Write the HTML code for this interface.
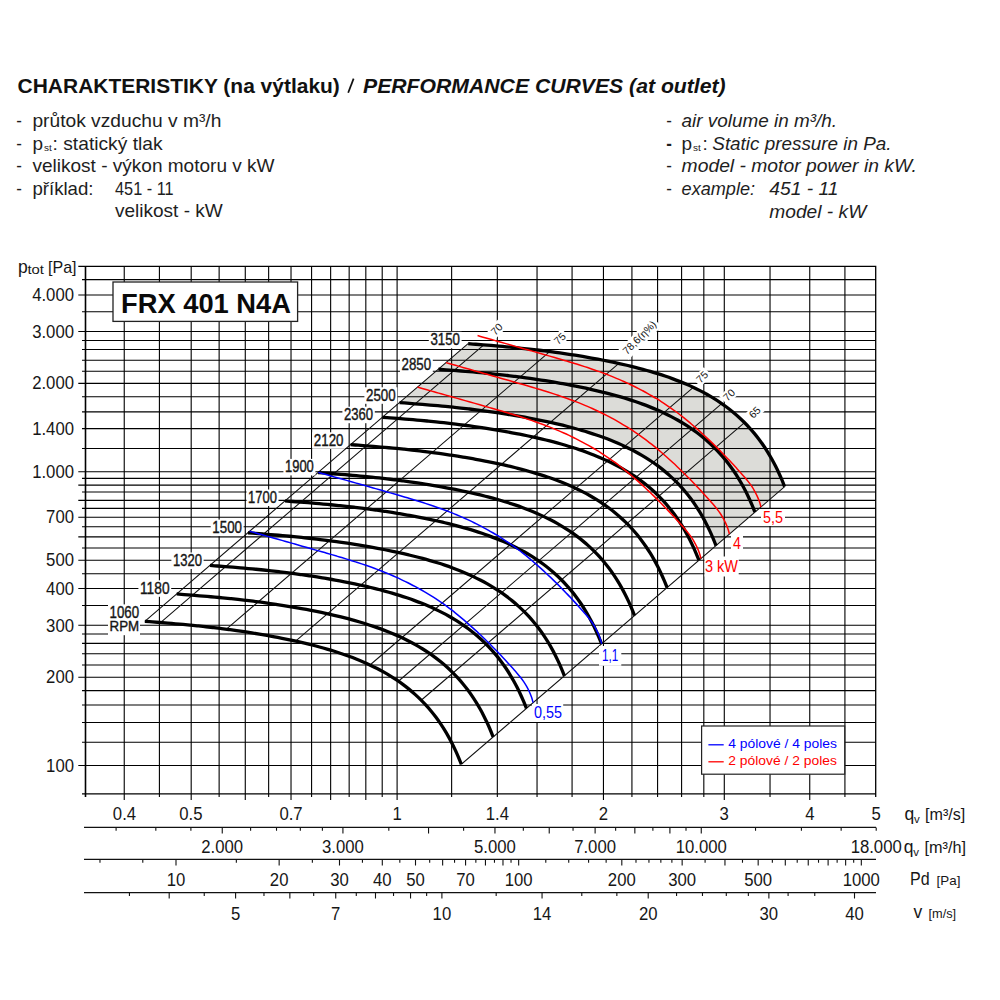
<!DOCTYPE html>
<html><head><meta charset="utf-8"><style>
html,body{margin:0;padding:0;background:#fff;width:1000px;height:1000px;overflow:hidden;}
svg text{font-family:"Liberation Sans",sans-serif;}
</style></head><body style="position:relative">
<svg width="1000" height="1000" viewBox="0 0 1000 1000" style="position:absolute;left:0;top:0">
<rect width="1000" height="1000" fill="#fff"/>
<path d="M468.14,343.66 C469.41,343.76 473.19,344.06 475.72,344.26 C478.26,344.46 480.80,344.66 483.35,344.86 C485.90,345.06 488.46,345.27 491.02,345.48 C493.58,345.68 496.14,345.90 498.71,346.12 C501.27,346.34 503.84,346.56 506.40,346.79 C508.97,347.03 511.53,347.27 514.09,347.51 C516.66,347.76 519.22,348.02 521.77,348.28 C524.33,348.55 526.89,348.82 529.44,349.10 C532.00,349.39 534.55,349.68 537.10,349.98 C539.64,350.28 542.19,350.59 544.73,350.91 C547.27,351.23 549.81,351.56 552.35,351.90 C554.89,352.24 557.42,352.59 559.96,352.95 C562.49,353.31 565.02,353.68 567.55,354.06 C570.08,354.44 572.60,354.83 575.13,355.23 C577.65,355.63 580.17,356.04 582.69,356.47 C585.21,356.89 587.73,357.32 590.25,357.77 C592.77,358.22 595.29,358.68 597.80,359.15 C600.32,359.62 602.83,360.11 605.34,360.61 C607.86,361.11 610.37,361.62 612.88,362.15 C615.38,362.68 617.89,363.22 620.40,363.78 C622.90,364.34 625.40,364.91 627.90,365.51 C630.40,366.11 632.90,366.72 635.39,367.35 C637.88,367.99 640.37,368.64 642.85,369.31 C645.33,369.99 647.80,370.68 650.27,371.41 C652.74,372.13 655.21,372.87 657.66,373.64 C660.11,374.42 662.56,375.21 664.99,376.04 C667.43,376.87 669.86,377.72 672.27,378.61 C674.68,379.50 677.08,380.41 679.46,381.36 C681.85,382.32 684.22,383.30 686.57,384.32 C688.92,385.34 691.26,386.39 693.58,387.49 C695.89,388.58 698.19,389.71 700.46,390.89 C702.74,392.06 704.99,393.27 707.21,394.53 C709.44,395.78 711.64,397.08 713.81,398.42 C715.98,399.76 718.13,401.15 720.24,402.58 C722.35,404.01 724.43,405.49 726.48,407.01 C728.53,408.54 730.54,410.11 732.52,411.72 C734.49,413.34 736.44,415.00 738.33,416.72 C740.23,418.43 742.10,420.19 743.91,421.99 C745.73,423.80 747.51,425.65 749.24,427.54 C750.98,429.44 752.67,431.38 754.31,433.37 C755.95,435.35 757.55,437.38 759.10,439.44 C760.65,441.51 762.15,443.62 763.61,445.76 C765.06,447.90 766.46,450.08 767.82,452.28 C769.18,454.49 770.49,456.73 771.75,458.98 C773.01,461.24 774.22,463.53 775.38,465.82 C776.54,468.12 777.66,470.43 778.73,472.75 C779.80,475.06 780.82,477.39 781.81,479.70 C782.79,482.01 784.15,485.46 784.62,486.61 L716.02,545.53 L716.02,545.53 C715.55,544.37 714.18,540.93 713.20,538.62 C712.22,536.31 711.20,533.98 710.13,531.66 C709.06,529.35 707.94,527.03 706.78,524.74 C705.61,522.45 704.40,520.16 703.14,517.90 C701.88,515.64 700.58,513.40 699.22,511.20 C697.86,509.00 696.46,506.82 695.00,504.68 C693.55,502.54 692.04,500.43 690.50,498.36 C688.95,496.30 687.35,494.27 685.71,492.28 C684.06,490.30 682.37,488.36 680.64,486.46 C678.91,484.57 677.13,482.71 675.31,480.91 C673.49,479.10 671.63,477.34 669.73,475.63 C667.83,473.92 665.89,472.26 663.91,470.64 C661.94,469.02 659.92,467.45 657.88,465.93 C655.83,464.41 653.75,462.93 651.64,461.50 C649.53,460.07 647.38,458.68 645.21,457.34 C643.04,456.00 640.84,454.70 638.61,453.45 C636.39,452.19 634.13,450.98 631.86,449.80 C629.59,448.63 627.29,447.50 624.97,446.41 C622.66,445.31 620.32,444.26 617.97,443.24 C615.62,442.22 613.25,441.23 610.86,440.28 C608.48,439.33 606.08,438.41 603.66,437.53 C601.25,436.64 598.83,435.79 596.39,434.96 C593.96,434.13 591.51,433.33 589.06,432.56 C586.60,431.79 584.14,431.05 581.67,430.32 C579.20,429.60 576.72,428.91 574.24,428.23 C571.76,427.55 569.27,426.90 566.78,426.27 C564.29,425.64 561.80,425.02 559.30,424.43 C556.80,423.83 554.30,423.26 551.79,422.70 C549.29,422.14 546.78,421.59 544.27,421.06 C541.76,420.54 539.25,420.02 536.74,419.52 C534.23,419.02 531.71,418.54 529.20,418.07 C526.68,417.60 524.17,417.14 521.65,416.69 C519.13,416.24 516.61,415.81 514.09,415.38 C511.57,414.96 509.05,414.55 506.52,414.15 C504.00,413.74 501.47,413.35 498.94,412.97 C496.42,412.59 493.89,412.22 491.35,411.86 C488.82,411.51 486.29,411.16 483.75,410.82 C481.21,410.48 478.67,410.15 476.13,409.83 C473.59,409.51 471.04,409.20 468.49,408.90 C465.94,408.59 463.39,408.30 460.84,408.02 C458.29,407.74 455.73,407.46 453.17,407.20 C450.61,406.94 448.05,406.68 445.49,406.43 C442.93,406.18 440.36,405.94 437.80,405.71 C435.23,405.48 432.67,405.25 430.10,405.03 C427.54,404.81 424.98,404.60 422.42,404.39 C419.86,404.18 417.30,403.98 414.75,403.78 C412.20,403.58 409.65,403.38 407.12,403.18 C404.58,402.98 400.80,402.68 399.54,402.58 Z" fill="#dcdcd8" stroke="none"/>
<path d="M78.3,765.47H875.7M82.0,742.29H875.7M82.0,722.46H875.7M82.0,704.99H875.7M82.0,690.58H875.7M78.3,677.21H875.7M82.0,664.93H875.7M82.0,653.78H875.7M82.0,643.37H875.7M82.0,634.05H875.7M78.3,625.20H875.7M82.0,605.57H875.7M78.3,588.50H875.7M82.0,573.69H875.7M78.3,560.22H875.7M82.0,547.99H875.7M78.3,536.84H875.7M82.0,526.78H875.7M78.3,517.20H875.7M82.0,508.35H875.7M78.3,500.34H875.7M82.0,492.07H875.7M78.3,485.08H875.7M82.0,478.38H875.7M78.3,471.75H875.7M82.0,448.48H875.7M82.0,428.64H875.7M82.0,411.88H875.7M82.0,396.76H875.7M78.3,383.39H875.7M82.0,371.32H875.7M82.0,360.22H875.7M82.0,349.56H875.7M82.0,340.48H875.7M78.3,331.43H875.7M82.0,311.75H875.7M78.3,295.03H875.7M82.0,279.67H875.7M124.24,266.4V800.0M159.41,266.4V797.0M191.19,266.4V800.0M219.13,266.4V797.0M245.28,266.4V800.0M268.64,266.4V797.0M291.02,266.4V800.0M311.58,266.4V797.0M330.64,266.4V800.0M349.16,266.4V797.0M365.82,266.4V800.0M382.21,266.4V797.0M397.10,266.4V800.0M451.63,266.4V797.0M497.32,266.4V797.0M537.04,266.4V797.0M572.07,266.4V797.0M603.45,266.4V800.0M631.93,266.4V797.0M657.58,266.4V797.0M681.59,266.4V797.0M703.82,266.4V797.0M724.29,266.4V800.0M770.03,266.4V797.0M809.75,266.4V800.0M844.92,266.4V797.0" stroke="#000" stroke-width="1.1" fill="none"/>
<path d="M78.3,266.40H875.70V797.00" stroke="#000" stroke-width="1.3" fill="none"/>
<path d="M82,793.91H875.70" stroke="#000" stroke-width="1.2" fill="none"/>
<path d="M85.50,266.40V797" stroke="#000" stroke-width="1.6" fill="none"/>
<path d="M144.80,621.31L468.10,343.66M160.50,622.55L483.80,344.90M226.40,629.21L549.70,351.55M295.60,641.11L618.90,363.45M370.00,665.02L693.30,387.36M398.40,681.27L721.70,403.62M421.20,700.25L744.50,422.60M461.40,764.26L784.70,486.61" stroke="#111" stroke-width="1.05" fill="none"/>
<path d="M144.85,621.31 C146.11,621.41 149.89,621.71 152.42,621.91 C154.96,622.11 157.50,622.31 160.05,622.51 C162.60,622.72 165.16,622.92 167.72,623.13 C170.28,623.34 172.85,623.55 175.41,623.77 C177.97,623.99 180.54,624.21 183.10,624.45 C185.67,624.68 188.23,624.92 190.79,625.17 C193.36,625.42 195.92,625.67 198.48,625.94 C201.03,626.20 203.59,626.47 206.14,626.76 C208.70,627.04 211.25,627.33 213.80,627.63 C216.35,627.93 218.89,628.24 221.43,628.56 C223.98,628.88 226.52,629.21 229.05,629.55 C231.59,629.89 234.13,630.24 236.66,630.60 C239.19,630.96 241.72,631.33 244.25,631.71 C246.78,632.09 249.30,632.48 251.83,632.88 C254.35,633.28 256.87,633.70 259.39,634.12 C261.92,634.54 264.44,634.98 266.95,635.43 C269.47,635.87 271.99,636.33 274.50,636.80 C277.02,637.28 279.53,637.76 282.05,638.26 C284.56,638.76 287.07,639.27 289.58,639.80 C292.09,640.33 294.59,640.87 297.10,641.43 C299.60,641.99 302.10,642.57 304.60,643.16 C307.10,643.76 309.60,644.37 312.09,645.01 C314.58,645.64 317.07,646.29 319.55,646.97 C322.03,647.64 324.51,648.34 326.97,649.06 C329.44,649.78 331.91,650.53 334.36,651.30 C336.81,652.07 339.26,652.87 341.70,653.69 C344.13,654.52 346.56,655.38 348.97,656.26 C351.38,657.15 353.78,658.07 356.17,659.02 C358.55,659.97 360.92,660.95 363.27,661.97 C365.63,662.99 367.96,664.05 370.28,665.14 C372.59,666.24 374.89,667.37 377.16,668.54 C379.44,669.71 381.69,670.93 383.92,672.18 C386.14,673.44 388.34,674.73 390.51,676.08 C392.68,677.42 394.83,678.80 396.94,680.23 C399.05,681.67 401.14,683.14 403.18,684.67 C405.23,686.19 407.24,687.76 409.22,689.38 C411.20,690.99 413.14,692.66 415.04,694.37 C416.94,696.08 418.80,697.84 420.62,699.64 C422.43,701.45 424.21,703.30 425.94,705.20 C427.68,707.09 429.37,709.04 431.01,711.02 C432.65,713.00 434.25,715.03 435.80,717.10 C437.35,719.16 438.85,721.27 440.31,723.41 C441.76,725.55 443.17,727.73 444.52,729.94 C445.88,732.14 447.19,734.38 448.45,736.64 C449.71,738.89 450.92,741.18 452.08,743.48 C453.25,745.77 454.36,748.09 455.43,750.40 C456.50,752.71 457.52,755.04 458.51,757.35 C459.49,759.66 460.85,763.11 461.32,764.26" stroke="#000" stroke-width="3.3" fill="none" stroke-linecap="butt" stroke-linejoin="round"/>
<path d="M176.68,593.97 C177.94,594.07 181.72,594.37 184.26,594.57 C186.79,594.77 189.34,594.97 191.89,595.17 C194.44,595.38 197.00,595.58 199.56,595.79 C202.12,596.00 204.68,596.21 207.24,596.43 C209.81,596.65 212.37,596.87 214.94,597.11 C217.50,597.34 220.07,597.58 222.63,597.83 C225.19,598.08 227.75,598.33 230.31,598.60 C232.87,598.86 235.43,599.13 237.98,599.42 C240.53,599.70 243.08,599.99 245.63,600.29 C248.18,600.59 250.73,600.90 253.27,601.22 C255.81,601.54 258.35,601.87 260.89,602.21 C263.43,602.55 265.96,602.90 268.49,603.26 C271.02,603.62 273.55,603.99 276.08,604.37 C278.61,604.75 281.14,605.14 283.66,605.54 C286.19,605.94 288.71,606.36 291.23,606.78 C293.75,607.20 296.27,607.64 298.79,608.09 C301.31,608.53 303.82,608.99 306.34,609.46 C308.85,609.94 311.37,610.42 313.88,610.92 C316.39,611.42 318.90,611.93 321.41,612.46 C323.92,612.99 326.43,613.53 328.93,614.09 C331.44,614.65 333.94,615.23 336.44,615.82 C338.94,616.42 341.43,617.03 343.92,617.66 C346.41,618.30 348.90,618.95 351.38,619.63 C353.86,620.30 356.34,621.00 358.81,621.72 C361.28,622.44 363.74,623.19 366.20,623.96 C368.65,624.73 371.10,625.53 373.53,626.35 C375.97,627.18 378.39,628.04 380.80,628.92 C383.21,629.81 385.62,630.73 388.00,631.68 C390.38,632.63 392.76,633.61 395.11,634.63 C397.46,635.65 399.80,636.71 402.11,637.80 C404.43,638.90 406.73,640.03 409.00,641.20 C411.27,642.37 413.53,643.59 415.75,644.84 C417.97,646.10 420.18,647.39 422.35,648.74 C424.52,650.08 426.66,651.46 428.78,652.89 C430.89,654.33 432.97,655.80 435.02,657.33 C437.06,658.85 439.08,660.42 441.05,662.04 C443.03,663.65 444.97,665.32 446.87,667.03 C448.77,668.74 450.63,670.50 452.45,672.30 C454.27,674.11 456.05,675.96 457.78,677.86 C459.51,679.75 461.20,681.70 462.84,683.68 C464.49,685.66 466.09,687.69 467.63,689.76 C469.18,691.82 470.69,693.93 472.14,696.07 C473.60,698.21 475.00,700.39 476.36,702.60 C477.71,704.80 479.02,707.04 480.28,709.30 C481.54,711.55 482.75,713.84 483.92,716.14 C485.08,718.43 486.20,720.75 487.27,723.06 C488.34,725.37 489.36,727.70 490.34,730.01 C491.32,732.32 492.69,735.77 493.16,736.92" stroke="#000" stroke-width="3.3" fill="none" stroke-linecap="butt" stroke-linejoin="round"/>
<path d="M209.96,565.39 C211.22,565.49 215.00,565.79 217.54,565.99 C220.07,566.19 222.62,566.39 225.17,566.59 C227.72,566.79 230.28,567.00 232.84,567.21 C235.40,567.42 237.96,567.63 240.52,567.85 C243.09,568.07 245.65,568.29 248.22,568.52 C250.78,568.76 253.35,569.00 255.91,569.25 C258.47,569.49 261.03,569.75 263.59,570.01 C266.15,570.28 268.71,570.55 271.26,570.83 C273.81,571.12 276.37,571.41 278.91,571.71 C281.46,572.01 284.01,572.32 286.55,572.64 C289.09,572.96 291.63,573.29 294.17,573.63 C296.71,573.97 299.24,574.32 301.77,574.68 C304.31,575.04 306.84,575.41 309.36,575.79 C311.89,576.17 314.42,576.56 316.94,576.96 C319.47,577.36 321.99,577.77 324.51,578.20 C327.03,578.62 329.55,579.06 332.07,579.50 C334.59,579.95 337.10,580.41 339.62,580.88 C342.13,581.35 344.65,581.84 347.16,582.34 C349.67,582.84 352.18,583.35 354.69,583.88 C357.20,584.41 359.71,584.95 362.21,585.51 C364.72,586.07 367.22,586.65 369.72,587.24 C372.22,587.84 374.71,588.45 377.20,589.08 C379.69,589.72 382.18,590.37 384.66,591.04 C387.14,591.72 389.62,592.42 392.09,593.14 C394.56,593.86 397.02,594.60 399.48,595.38 C401.93,596.15 404.38,596.95 406.81,597.77 C409.25,598.60 411.67,599.45 414.08,600.34 C416.50,601.23 418.90,602.14 421.28,603.09 C423.67,604.05 426.04,605.03 428.39,606.05 C430.74,607.07 433.08,608.13 435.39,609.22 C437.71,610.31 440.01,611.45 442.28,612.62 C444.55,613.79 446.81,615.00 449.03,616.26 C451.26,617.52 453.46,618.81 455.63,620.15 C457.80,621.50 459.95,622.88 462.06,624.31 C464.17,625.74 466.25,627.22 468.30,628.74 C470.34,630.27 472.36,631.84 474.34,633.45 C476.31,635.07 478.25,636.74 480.15,638.45 C482.05,640.16 483.91,641.92 485.73,643.72 C487.55,645.53 489.33,647.38 491.06,649.28 C492.79,651.17 494.48,653.11 496.13,655.10 C497.77,657.08 499.37,659.11 500.92,661.18 C502.47,663.24 503.97,665.35 505.42,667.49 C506.88,669.63 508.28,671.81 509.64,674.01 C511.00,676.22 512.30,678.46 513.56,680.72 C514.82,682.97 516.03,685.26 517.20,687.55 C518.36,689.85 519.48,692.16 520.55,694.48 C521.62,696.79 522.64,699.12 523.62,701.43 C524.60,703.74 525.97,707.19 526.44,708.34" stroke="#000" stroke-width="3.3" fill="none" stroke-linecap="butt" stroke-linejoin="round"/>
<path d="M247.91,532.80 C249.17,532.90 252.95,533.20 255.48,533.40 C258.02,533.60 260.57,533.80 263.12,534.00 C265.67,534.21 268.22,534.41 270.78,534.62 C273.34,534.83 275.91,535.04 278.47,535.26 C281.03,535.48 283.60,535.70 286.16,535.94 C288.73,536.17 291.29,536.41 293.86,536.66 C296.42,536.90 298.98,537.16 301.54,537.43 C304.10,537.69 306.65,537.96 309.21,538.25 C311.76,538.53 314.31,538.82 316.86,539.12 C319.41,539.42 321.95,539.73 324.50,540.05 C327.04,540.37 329.58,540.70 332.12,541.04 C334.65,541.38 337.19,541.73 339.72,542.09 C342.25,542.45 344.78,542.82 347.31,543.20 C349.84,543.58 352.36,543.97 354.89,544.37 C357.41,544.77 359.94,545.18 362.46,545.61 C364.98,546.03 367.50,546.47 370.02,546.91 C372.53,547.36 375.05,547.82 377.57,548.29 C380.08,548.77 382.59,549.25 385.11,549.75 C387.62,550.25 390.13,550.76 392.64,551.29 C395.15,551.82 397.65,552.36 400.16,552.92 C402.66,553.48 405.17,554.06 407.66,554.65 C410.16,555.25 412.66,555.86 415.15,556.49 C417.64,557.13 420.13,557.78 422.61,558.46 C425.09,559.13 427.57,559.83 430.04,560.55 C432.51,561.27 434.97,562.02 437.42,562.79 C439.88,563.56 442.32,564.36 444.76,565.18 C447.19,566.01 449.62,566.86 452.03,567.75 C454.44,568.64 456.84,569.55 459.23,570.51 C461.61,571.46 463.98,572.44 466.34,573.46 C468.69,574.48 471.03,575.54 473.34,576.63 C475.66,577.73 477.95,578.86 480.23,580.03 C482.50,581.20 484.75,582.41 486.98,583.67 C489.20,584.93 491.40,586.22 493.57,587.57 C495.75,588.91 497.89,590.29 500.00,591.72 C502.11,593.16 504.20,594.63 506.24,596.16 C508.29,597.68 510.31,599.25 512.28,600.87 C514.26,602.48 516.20,604.15 518.10,605.86 C520.00,607.57 521.86,609.33 523.68,611.13 C525.50,612.94 527.27,614.79 529.01,616.69 C530.74,618.58 532.43,620.53 534.07,622.51 C535.71,624.49 537.31,626.52 538.86,628.59 C540.41,630.65 541.91,632.76 543.37,634.90 C544.82,637.04 546.23,639.22 547.59,641.43 C548.94,643.63 550.25,645.87 551.51,648.13 C552.77,650.38 553.98,652.67 555.14,654.96 C556.31,657.26 557.42,659.58 558.49,661.89 C559.56,664.20 560.59,666.53 561.57,668.84 C562.55,671.15 563.92,674.60 564.38,675.75" stroke="#000" stroke-width="3.3" fill="none" stroke-linecap="butt" stroke-linejoin="round"/>
<path d="M285.06,500.89 C286.32,500.99 290.10,501.29 292.64,501.49 C295.17,501.70 297.72,501.89 300.27,502.10 C302.82,502.30 305.38,502.50 307.94,502.71 C310.50,502.92 313.06,503.13 315.62,503.35 C318.19,503.57 320.75,503.80 323.32,504.03 C325.88,504.26 328.45,504.50 331.01,504.75 C333.57,505.00 336.13,505.25 338.69,505.52 C341.25,505.78 343.81,506.06 346.36,506.34 C348.91,506.62 351.46,506.91 354.01,507.21 C356.56,507.51 359.11,507.82 361.65,508.14 C364.19,508.46 366.73,508.79 369.27,509.13 C371.81,509.47 374.34,509.82 376.87,510.18 C379.41,510.54 381.94,510.91 384.46,511.29 C386.99,511.67 389.52,512.06 392.04,512.46 C394.57,512.87 397.09,513.28 399.61,513.70 C402.13,514.12 404.65,514.56 407.17,515.01 C409.69,515.45 412.20,515.91 414.72,516.39 C417.23,516.86 419.75,517.34 422.26,517.84 C424.77,518.34 427.28,518.85 429.79,519.38 C432.30,519.91 434.81,520.45 437.31,521.01 C439.82,521.57 442.32,522.15 444.82,522.74 C447.32,523.34 449.81,523.95 452.30,524.59 C454.79,525.22 457.28,525.87 459.76,526.55 C462.24,527.22 464.72,527.92 467.19,528.64 C469.66,529.36 472.12,530.11 474.58,530.88 C477.03,531.65 479.48,532.45 481.91,533.28 C484.35,534.10 486.77,534.96 489.18,535.84 C491.59,536.73 494.00,537.65 496.38,538.60 C498.76,539.55 501.14,540.53 503.49,541.55 C505.84,542.57 508.18,543.63 510.49,544.72 C512.81,545.82 515.11,546.95 517.38,548.12 C519.65,549.30 521.91,550.51 524.13,551.76 C526.36,553.02 528.56,554.31 530.73,555.66 C532.90,557.00 535.04,558.38 537.16,559.82 C539.27,561.25 541.35,562.72 543.40,564.25 C545.44,565.77 547.46,567.34 549.43,568.96 C551.41,570.58 553.35,572.24 555.25,573.95 C557.15,575.66 559.01,577.42 560.83,579.23 C562.65,581.03 564.43,582.88 566.16,584.78 C567.89,586.67 569.58,588.62 571.23,590.60 C572.87,592.58 574.47,594.61 576.02,596.68 C577.56,598.74 579.07,600.85 580.52,602.99 C581.98,605.13 583.38,607.31 584.74,609.52 C586.10,611.72 587.40,613.96 588.66,616.22 C589.92,618.48 591.13,620.76 592.30,623.06 C593.46,625.35 594.58,627.67 595.65,629.98 C596.72,632.29 597.74,634.62 598.72,636.93 C599.70,639.24 601.07,642.69 601.54,643.84" stroke="#000" stroke-width="3.3" fill="none" stroke-linecap="butt" stroke-linejoin="round"/>
<path d="M318.08,472.54 C319.34,472.64 323.12,472.94 325.65,473.14 C328.19,473.34 330.74,473.54 333.29,473.74 C335.84,473.94 338.39,474.15 340.95,474.36 C343.51,474.56 346.08,474.78 348.64,475.00 C351.20,475.22 353.77,475.44 356.33,475.67 C358.90,475.91 361.46,476.15 364.03,476.39 C366.59,476.64 369.15,476.90 371.71,477.16 C374.27,477.43 376.82,477.70 379.38,477.98 C381.93,478.27 384.48,478.56 387.03,478.86 C389.58,479.16 392.12,479.47 394.67,479.79 C397.21,480.11 399.75,480.44 402.28,480.78 C404.82,481.12 407.36,481.47 409.89,481.83 C412.42,482.19 414.95,482.56 417.48,482.94 C420.01,483.32 422.53,483.71 425.06,484.11 C427.58,484.51 430.11,484.92 432.63,485.35 C435.15,485.77 437.67,486.20 440.19,486.65 C442.70,487.10 445.22,487.56 447.74,488.03 C450.25,488.50 452.76,488.99 455.28,489.49 C457.79,489.99 460.30,490.50 462.81,491.03 C465.32,491.56 467.82,492.10 470.33,492.66 C472.83,493.22 475.34,493.79 477.83,494.39 C480.33,494.99 482.83,495.60 485.32,496.23 C487.81,496.87 490.30,497.52 492.78,498.19 C495.26,498.87 497.74,499.56 500.21,500.29 C502.68,501.01 505.14,501.75 507.59,502.52 C510.05,503.30 512.49,504.09 514.93,504.92 C517.36,505.75 519.79,506.60 522.20,507.49 C524.61,508.38 527.01,509.29 529.40,510.24 C531.78,511.20 534.15,512.18 536.51,513.20 C538.86,514.22 541.20,515.27 543.51,516.37 C545.83,517.46 548.12,518.59 550.40,519.77 C552.67,520.94 554.92,522.15 557.15,523.41 C559.37,524.66 561.57,525.96 563.74,527.30 C565.92,528.64 568.06,530.03 570.17,531.46 C572.28,532.89 574.37,534.37 576.41,535.89 C578.46,537.42 580.48,538.99 582.45,540.60 C584.43,542.22 586.37,543.88 588.27,545.60 C590.17,547.31 592.03,549.07 593.85,550.87 C595.67,552.68 597.44,554.53 599.18,556.42 C600.91,558.32 602.60,560.26 604.24,562.25 C605.88,564.23 607.48,566.26 609.03,568.32 C610.58,570.39 612.08,572.50 613.54,574.64 C614.99,576.78 616.40,578.96 617.75,581.16 C619.11,583.37 620.42,585.61 621.68,587.86 C622.94,590.12 624.15,592.41 625.31,594.70 C626.48,597.00 627.59,599.31 628.66,601.63 C629.73,603.94 630.76,606.27 631.74,608.58 C632.72,610.89 634.09,614.34 634.55,615.49" stroke="#000" stroke-width="3.3" fill="none" stroke-linecap="butt" stroke-linejoin="round"/>
<path d="M350.60,444.61 C351.86,444.71 355.64,445.01 358.18,445.21 C360.71,445.41 363.26,445.61 365.81,445.81 C368.36,446.01 370.92,446.21 373.48,446.42 C376.04,446.63 378.60,446.85 381.16,447.07 C383.73,447.29 386.29,447.51 388.86,447.74 C391.42,447.98 393.99,448.21 396.55,448.46 C399.11,448.71 401.67,448.97 404.23,449.23 C406.79,449.50 409.35,449.77 411.90,450.05 C414.45,450.33 417.00,450.63 419.55,450.93 C422.10,451.23 424.64,451.54 427.19,451.86 C429.73,452.18 432.27,452.51 434.81,452.85 C437.34,453.19 439.88,453.54 442.41,453.90 C444.94,454.26 447.47,454.63 450.00,455.01 C452.53,455.39 455.06,455.78 457.58,456.18 C460.11,456.58 462.63,456.99 465.15,457.42 C467.67,457.84 470.19,458.27 472.71,458.72 C475.23,459.17 477.74,459.63 480.26,460.10 C482.77,460.57 485.29,461.06 487.80,461.56 C490.31,462.06 492.82,462.57 495.33,463.10 C497.84,463.62 500.35,464.17 502.85,464.73 C505.36,465.29 507.86,465.86 510.36,466.46 C512.85,467.05 515.35,467.67 517.84,468.30 C520.33,468.93 522.82,469.59 525.30,470.26 C527.78,470.94 530.26,471.63 532.73,472.36 C535.20,473.08 537.66,473.82 540.11,474.59 C542.57,475.37 545.02,476.16 547.45,476.99 C549.88,477.82 552.31,478.67 554.72,479.56 C557.13,480.45 559.54,481.36 561.92,482.31 C564.30,483.26 566.68,484.25 569.03,485.27 C571.38,486.29 573.72,487.34 576.03,488.44 C578.35,489.53 580.65,490.66 582.92,491.84 C585.19,493.01 587.44,494.22 589.67,495.48 C591.89,496.73 594.10,498.03 596.27,499.37 C598.44,500.71 600.58,502.10 602.70,503.53 C604.81,504.96 606.89,506.44 608.94,507.96 C610.98,509.49 613.00,511.06 614.97,512.67 C616.95,514.29 618.89,515.95 620.79,517.67 C622.69,519.38 624.55,521.14 626.37,522.94 C628.19,524.74 629.97,526.60 631.70,528.49 C633.43,530.39 635.12,532.33 636.76,534.32 C638.41,536.30 640.00,538.33 641.55,540.39 C643.10,542.46 644.61,544.57 646.06,546.71 C647.51,548.85 648.92,551.03 650.28,553.23 C651.63,555.44 652.94,557.68 654.20,559.93 C655.46,562.19 656.67,564.48 657.84,566.77 C659.00,569.06 660.11,571.38 661.19,573.70 C662.26,576.01 663.28,578.34 664.26,580.65 C665.24,582.96 666.61,586.41 667.08,587.56" stroke="#000" stroke-width="3.3" fill="none" stroke-linecap="butt" stroke-linejoin="round"/>
<path d="M382.43,417.27 C383.70,417.37 387.48,417.67 390.01,417.87 C392.55,418.07 395.09,418.27 397.64,418.47 C400.19,418.67 402.75,418.87 405.31,419.08 C407.87,419.29 410.43,419.51 413.00,419.73 C415.56,419.95 418.13,420.17 420.69,420.40 C423.26,420.64 425.82,420.87 428.38,421.12 C430.95,421.37 433.51,421.63 436.07,421.89 C438.62,422.16 441.18,422.43 443.73,422.71 C446.29,422.99 448.84,423.29 451.39,423.59 C453.93,423.89 456.48,424.20 459.02,424.52 C461.56,424.84 464.10,425.17 466.64,425.51 C469.18,425.85 471.71,426.20 474.25,426.56 C476.78,426.92 479.31,427.29 481.84,427.67 C484.37,428.05 486.89,428.44 489.42,428.84 C491.94,429.24 494.46,429.65 496.98,430.08 C499.50,430.50 502.02,430.93 504.54,431.38 C507.06,431.83 509.58,432.29 512.09,432.76 C514.61,433.23 517.12,433.72 519.63,434.22 C522.15,434.71 524.66,435.23 527.17,435.76 C529.67,436.28 532.18,436.83 534.69,437.39 C537.19,437.95 539.69,438.52 542.19,439.12 C544.69,439.71 547.19,440.33 549.68,440.96 C552.17,441.59 554.66,442.25 557.14,442.92 C559.62,443.60 562.09,444.29 564.56,445.02 C567.03,445.74 569.50,446.48 571.95,447.25 C574.40,448.03 576.85,448.82 579.28,449.65 C581.72,450.48 584.15,451.33 586.56,452.22 C588.97,453.11 591.37,454.02 593.75,454.97 C596.14,455.92 598.51,456.91 600.86,457.93 C603.21,458.95 605.55,460.00 607.87,461.10 C610.18,462.19 612.48,463.32 614.75,464.50 C617.03,465.67 619.28,466.88 621.50,468.14 C623.73,469.39 625.93,470.69 628.10,472.03 C630.27,473.37 632.42,474.76 634.53,476.19 C636.64,477.62 638.72,479.10 640.77,480.62 C642.82,482.15 644.83,483.71 646.81,485.33 C648.78,486.95 650.73,488.61 652.62,490.32 C654.52,492.04 656.39,493.80 658.20,495.60 C660.02,497.40 661.80,499.26 663.53,501.15 C665.27,503.05 666.96,504.99 668.60,506.97 C670.24,508.96 671.84,510.99 673.39,513.05 C674.94,515.12 676.44,517.23 677.90,519.37 C679.35,521.51 680.76,523.69 682.11,525.89 C683.47,528.10 684.78,530.34 686.04,532.59 C687.30,534.85 688.51,537.14 689.67,539.43 C690.83,541.72 691.95,544.04 693.02,546.36 C694.09,548.67 695.11,551.00 696.10,553.31 C697.08,555.62 698.44,559.07 698.91,560.22" stroke="#000" stroke-width="3.3" fill="none" stroke-linecap="butt" stroke-linejoin="round"/>
<path d="M399.54,402.58 C400.80,402.68 404.58,402.98 407.12,403.18 C409.65,403.38 412.20,403.58 414.75,403.78 C417.30,403.98 419.86,404.18 422.42,404.39 C424.98,404.60 427.54,404.81 430.10,405.03 C432.67,405.25 435.23,405.48 437.80,405.71 C440.36,405.94 442.93,406.18 445.49,406.43 C448.05,406.68 450.61,406.94 453.17,407.20 C455.73,407.46 458.29,407.74 460.84,408.02 C463.39,408.30 465.94,408.59 468.49,408.90 C471.04,409.20 473.59,409.51 476.13,409.83 C478.67,410.15 481.21,410.48 483.75,410.82 C486.29,411.16 488.82,411.51 491.35,411.86 C493.89,412.22 496.42,412.59 498.94,412.97 C501.47,413.35 504.00,413.74 506.52,414.15 C509.05,414.55 511.57,414.96 514.09,415.38 C516.61,415.81 519.13,416.24 521.65,416.69 C524.17,417.14 526.68,417.60 529.20,418.07 C531.71,418.54 534.23,419.02 536.74,419.52 C539.25,420.02 541.76,420.54 544.27,421.06 C546.78,421.59 549.29,422.14 551.79,422.70 C554.30,423.26 556.80,423.83 559.30,424.43 C561.80,425.02 564.29,425.64 566.78,426.27 C569.27,426.90 571.76,427.55 574.24,428.23 C576.72,428.91 579.20,429.60 581.67,430.32 C584.14,431.05 586.60,431.79 589.06,432.56 C591.51,433.33 593.96,434.13 596.39,434.96 C598.83,435.79 601.25,436.64 603.66,437.53 C606.08,438.41 608.48,439.33 610.86,440.28 C613.25,441.23 615.62,442.22 617.97,443.24 C620.32,444.26 622.66,445.31 624.97,446.41 C627.29,447.50 629.59,448.63 631.86,449.80 C634.13,450.98 636.39,452.19 638.61,453.45 C640.84,454.70 643.04,456.00 645.21,457.34 C647.38,458.68 649.53,460.07 651.64,461.50 C653.75,462.93 655.83,464.41 657.88,465.93 C659.92,467.45 661.94,469.02 663.91,470.64 C665.89,472.26 667.83,473.92 669.73,475.63 C671.63,477.34 673.49,479.10 675.31,480.91 C677.13,482.71 678.91,484.57 680.64,486.46 C682.37,488.36 684.06,490.30 685.71,492.28 C687.35,494.27 688.95,496.30 690.50,498.36 C692.04,500.43 693.55,502.54 695.00,504.68 C696.46,506.82 697.86,509.00 699.22,511.20 C700.58,513.40 701.88,515.64 703.14,517.90 C704.40,520.16 705.61,522.45 706.78,524.74 C707.94,527.03 709.06,529.35 710.13,531.66 C711.20,533.98 712.22,536.31 713.20,538.62 C714.18,540.93 715.55,544.37 716.02,545.53" stroke="#000" stroke-width="3.3" fill="none" stroke-linecap="butt" stroke-linejoin="round"/>
<path d="M438.44,369.17 C439.70,369.27 443.48,369.57 446.01,369.77 C448.55,369.97 451.09,370.17 453.64,370.37 C456.19,370.58 458.75,370.78 461.31,370.99 C463.87,371.20 466.44,371.41 469.00,371.63 C471.56,371.85 474.13,372.08 476.69,372.31 C479.26,372.54 481.82,372.78 484.38,373.03 C486.95,373.28 489.51,373.53 492.07,373.80 C494.62,374.06 497.18,374.33 499.73,374.62 C502.29,374.90 504.84,375.19 507.39,375.49 C509.94,375.79 512.48,376.10 515.02,376.42 C517.57,376.74 520.11,377.07 522.64,377.41 C525.18,377.75 527.71,378.10 530.25,378.46 C532.78,378.82 535.31,379.19 537.84,379.57 C540.37,379.95 542.89,380.34 545.42,380.74 C547.94,381.14 550.46,381.56 552.98,381.98 C555.51,382.40 558.03,382.84 560.54,383.29 C563.06,383.73 565.58,384.19 568.09,384.66 C570.61,385.14 573.12,385.62 575.64,386.12 C578.15,386.62 580.66,387.13 583.17,387.66 C585.68,388.19 588.18,388.73 590.69,389.29 C593.19,389.85 595.69,390.43 598.19,391.02 C600.69,391.62 603.19,392.23 605.68,392.87 C608.17,393.50 610.66,394.15 613.14,394.83 C615.62,395.50 618.10,396.20 620.56,396.92 C623.03,397.64 625.50,398.39 627.95,399.16 C630.40,399.93 632.85,400.73 635.29,401.56 C637.72,402.38 640.15,403.24 642.56,404.12 C644.97,405.01 647.37,405.93 649.76,406.88 C652.14,407.83 654.51,408.81 656.86,409.83 C659.22,410.85 661.55,411.91 663.87,413.00 C666.18,414.10 668.48,415.23 670.75,416.40 C673.03,417.57 675.28,418.79 677.51,420.04 C679.73,421.30 681.93,422.59 684.10,423.94 C686.27,425.28 688.42,426.66 690.53,428.10 C692.64,429.53 694.73,431.00 696.77,432.53 C698.82,434.05 700.83,435.62 702.81,437.24 C704.78,438.85 706.73,440.52 708.63,442.23 C710.53,443.94 712.39,445.70 714.21,447.51 C716.02,449.31 717.80,451.16 719.53,453.06 C721.27,454.95 722.96,456.90 724.60,458.88 C726.24,460.86 727.84,462.89 729.39,464.96 C730.94,467.02 732.44,469.13 733.90,471.27 C735.35,473.41 736.76,475.59 738.11,477.80 C739.47,480.00 740.78,482.24 742.04,484.50 C743.30,486.75 744.51,489.04 745.67,491.34 C746.84,493.63 747.95,495.95 749.02,498.26 C750.09,500.57 751.11,502.90 752.10,505.21 C753.08,507.52 754.44,510.97 754.91,512.12" stroke="#000" stroke-width="3.3" fill="none" stroke-linecap="butt" stroke-linejoin="round"/>
<path d="M468.14,343.66 C469.41,343.76 473.19,344.06 475.72,344.26 C478.26,344.46 480.80,344.66 483.35,344.86 C485.90,345.06 488.46,345.27 491.02,345.48 C493.58,345.68 496.14,345.90 498.71,346.12 C501.27,346.34 503.84,346.56 506.40,346.79 C508.97,347.03 511.53,347.27 514.09,347.51 C516.66,347.76 519.22,348.02 521.77,348.28 C524.33,348.55 526.89,348.82 529.44,349.10 C532.00,349.39 534.55,349.68 537.10,349.98 C539.64,350.28 542.19,350.59 544.73,350.91 C547.27,351.23 549.81,351.56 552.35,351.90 C554.89,352.24 557.42,352.59 559.96,352.95 C562.49,353.31 565.02,353.68 567.55,354.06 C570.08,354.44 572.60,354.83 575.13,355.23 C577.65,355.63 580.17,356.04 582.69,356.47 C585.21,356.89 587.73,357.32 590.25,357.77 C592.77,358.22 595.29,358.68 597.80,359.15 C600.32,359.62 602.83,360.11 605.34,360.61 C607.86,361.11 610.37,361.62 612.88,362.15 C615.38,362.68 617.89,363.22 620.40,363.78 C622.90,364.34 625.40,364.91 627.90,365.51 C630.40,366.11 632.90,366.72 635.39,367.35 C637.88,367.99 640.37,368.64 642.85,369.31 C645.33,369.99 647.80,370.68 650.27,371.41 C652.74,372.13 655.21,372.87 657.66,373.64 C660.11,374.42 662.56,375.21 664.99,376.04 C667.43,376.87 669.86,377.72 672.27,378.61 C674.68,379.50 677.08,380.41 679.46,381.36 C681.85,382.32 684.22,383.30 686.57,384.32 C688.92,385.34 691.26,386.39 693.58,387.49 C695.89,388.58 698.19,389.71 700.46,390.89 C702.74,392.06 704.99,393.27 707.21,394.53 C709.44,395.78 711.64,397.08 713.81,398.42 C715.98,399.76 718.13,401.15 720.24,402.58 C722.35,404.01 724.43,405.49 726.48,407.01 C728.53,408.54 730.54,410.11 732.52,411.72 C734.49,413.34 736.44,415.00 738.33,416.72 C740.23,418.43 742.10,420.19 743.91,421.99 C745.73,423.80 747.51,425.65 749.24,427.54 C750.98,429.44 752.67,431.38 754.31,433.37 C755.95,435.35 757.55,437.38 759.10,439.44 C760.65,441.51 762.15,443.62 763.61,445.76 C765.06,447.90 766.46,450.08 767.82,452.28 C769.18,454.49 770.49,456.73 771.75,458.98 C773.01,461.24 774.22,463.53 775.38,465.82 C776.54,468.12 777.66,470.43 778.73,472.75 C779.80,475.06 780.82,477.39 781.81,479.70 C782.79,482.01 784.15,485.46 784.62,486.61" stroke="#000" stroke-width="3.3" fill="none" stroke-linecap="butt" stroke-linejoin="round"/>
<path d="M249.72,531.25 C250.49,531.47 252.80,532.14 254.36,532.59 C255.91,533.03 257.47,533.48 259.03,533.92 C260.60,534.37 262.17,534.81 263.74,535.26 C265.32,535.70 266.89,536.15 268.48,536.60 C270.06,537.05 271.65,537.49 273.23,537.94 C274.82,538.39 276.41,538.84 278.01,539.29 C279.60,539.74 281.20,540.20 282.80,540.65 C284.41,541.10 286.01,541.56 287.62,542.02 C289.22,542.47 290.84,542.93 292.45,543.38 C294.06,543.84 295.68,544.31 297.29,544.77 C298.91,545.23 300.53,545.69 302.16,546.16 C303.78,546.62 305.41,547.09 307.04,547.55 C308.68,548.02 310.31,548.48 311.95,548.95 C313.59,549.42 315.23,549.89 316.88,550.36 C318.52,550.83 320.17,551.30 321.83,551.77 C323.48,552.24 325.14,552.71 326.79,553.19 C328.45,553.67 330.11,554.15 331.77,554.64 C333.43,555.12 335.09,555.61 336.75,556.10 C338.41,556.59 340.08,557.09 341.74,557.59 C343.41,558.09 345.08,558.59 346.74,559.11 C348.41,559.62 350.07,560.14 351.73,560.66 C353.40,561.19 355.06,561.72 356.72,562.26 C358.38,562.79 360.04,563.34 361.70,563.89 C363.36,564.45 365.02,565.01 366.67,565.58 C368.32,566.16 369.97,566.74 371.62,567.33 C373.26,567.93 374.91,568.53 376.55,569.15 C378.18,569.76 379.82,570.39 381.45,571.03 C383.08,571.67 384.70,572.32 386.32,572.98 C387.94,573.65 389.55,574.33 391.16,575.02 C392.77,575.71 394.37,576.42 395.97,577.14 C397.57,577.86 399.16,578.59 400.75,579.34 C402.34,580.08 403.92,580.85 405.50,581.62 C407.08,582.40 408.65,583.19 410.22,583.99 C411.79,584.80 413.36,585.61 414.92,586.45 C416.48,587.28 418.03,588.13 419.58,589.00 C421.13,589.86 422.67,590.75 424.21,591.64 C425.75,592.54 427.28,593.46 428.81,594.39 C430.33,595.32 431.85,596.26 433.37,597.23 C434.88,598.19 436.39,599.17 437.89,600.17 C439.39,601.17 440.88,602.19 442.37,603.23 C443.85,604.27 445.34,605.32 446.81,606.39 C448.28,607.47 449.74,608.56 451.19,609.67 C452.65,610.78 454.09,611.91 455.53,613.06 C456.97,614.21 458.40,615.37 459.83,616.55 C461.25,617.73 462.67,618.93 464.08,620.14 C465.50,621.35 466.91,622.58 468.32,623.82 C469.72,625.06 471.13,626.31 472.53,627.58 C473.93,628.84 475.33,630.11 476.73,631.40 C478.12,632.69 479.51,633.99 480.90,635.30 C482.28,636.62 483.66,637.94 485.04,639.28 C486.41,640.61 487.79,641.96 489.15,643.31 C490.52,644.67 491.88,646.04 493.23,647.41 C494.58,648.79 495.93,650.18 497.27,651.57 C498.61,652.96 499.94,654.37 501.27,655.78 C502.60,657.18 503.92,658.60 505.23,660.02 C506.54,661.44 507.84,662.87 509.14,664.30 C510.43,665.73 511.73,667.15 513.01,668.58 C514.29,670.02 515.58,671.44 516.82,672.89 C518.06,674.35 519.27,675.82 520.44,677.32 C521.60,678.81 522.77,680.30 523.83,681.86 C524.88,683.43 525.85,685.05 526.77,686.70 C527.69,688.35 528.55,690.04 529.33,691.76 C530.12,693.48 530.85,695.23 531.48,697.04 C532.11,698.84 532.84,701.68 533.11,702.61" stroke="#0000ff" stroke-width="1.5" fill="none"/>
<path d="M318.30,472.35 C319.07,472.57 321.39,473.24 322.94,473.69 C324.50,474.13 326.05,474.58 327.62,475.02 C329.18,475.47 330.76,475.91 332.33,476.36 C333.90,476.80 335.48,477.25 337.06,477.70 C338.64,478.15 340.23,478.59 341.82,479.04 C343.41,479.49 345.00,479.94 346.59,480.39 C348.19,480.84 349.79,481.29 351.39,481.75 C352.99,482.20 354.59,482.66 356.20,483.11 C357.81,483.57 359.42,484.02 361.03,484.48 C362.65,484.94 364.26,485.40 365.88,485.87 C367.50,486.33 369.12,486.79 370.74,487.25 C372.37,487.72 374.00,488.18 375.63,488.65 C377.26,489.11 378.90,489.58 380.54,490.05 C382.18,490.51 383.81,490.99 385.46,491.46 C387.11,491.93 388.76,492.39 390.41,492.87 C392.06,493.34 393.72,493.81 395.38,494.29 C397.03,494.77 398.69,495.25 400.35,495.74 C402.01,496.22 403.67,496.71 405.33,497.20 C407.00,497.69 408.66,498.19 410.33,498.69 C411.99,499.19 413.66,499.69 415.33,500.20 C416.99,500.72 418.65,501.23 420.32,501.76 C421.98,502.28 423.64,502.82 425.30,503.35 C426.97,503.89 428.63,504.44 430.29,504.99 C431.95,505.55 433.60,506.11 435.25,506.68 C436.91,507.26 438.56,507.84 440.20,508.43 C441.85,509.03 443.49,509.63 445.13,510.24 C446.77,510.86 448.40,511.48 450.03,512.12 C451.66,512.76 453.29,513.42 454.90,514.08 C456.52,514.75 458.14,515.43 459.74,516.12 C461.35,516.81 462.96,517.52 464.56,518.23 C466.15,518.95 467.75,519.69 469.34,520.43 C470.92,521.18 472.51,521.94 474.08,522.72 C475.66,523.50 477.24,524.29 478.81,525.09 C480.38,525.90 481.94,526.71 483.50,527.55 C485.06,528.38 486.62,529.23 488.17,530.10 C489.71,530.96 491.26,531.84 492.79,532.74 C494.33,533.64 495.87,534.55 497.39,535.48 C498.92,536.42 500.44,537.36 501.95,538.33 C503.47,539.29 504.98,540.27 506.48,541.27 C507.98,542.27 509.47,543.29 510.95,544.33 C512.44,545.36 513.92,546.42 515.39,547.49 C516.86,548.56 518.32,549.66 519.78,550.77 C521.23,551.88 522.67,553.01 524.11,554.16 C525.55,555.30 526.98,556.47 528.41,557.65 C529.84,558.83 531.25,560.03 532.67,561.24 C534.08,562.45 535.49,563.68 536.90,564.92 C538.31,566.16 539.71,567.41 541.11,568.67 C542.51,569.94 543.92,571.21 545.31,572.50 C546.71,573.79 548.10,575.09 549.48,576.40 C550.87,577.71 552.25,579.04 553.62,580.37 C555.00,581.71 556.37,583.06 557.74,584.41 C559.10,585.77 560.46,587.13 561.82,588.51 C563.17,589.89 564.51,591.27 565.85,592.67 C567.19,594.06 568.53,595.47 569.85,596.87 C571.18,598.28 572.50,599.70 573.81,601.12 C575.12,602.54 576.42,603.97 577.72,605.40 C579.02,606.82 580.32,608.25 581.60,609.68 C582.88,611.12 584.17,612.54 585.40,613.99 C586.64,615.45 587.85,616.92 589.02,618.41 C590.19,619.91 591.36,621.39 592.41,622.96 C593.47,624.52 594.43,626.15 595.35,627.80 C596.27,629.45 597.13,631.13 597.92,632.86 C598.70,634.58 599.44,636.33 600.07,638.14 C600.70,639.94 601.43,642.78 601.70,643.71" stroke="#0000ff" stroke-width="1.5" fill="none"/>
<path d="M417.57,387.09 C418.35,387.31 420.66,387.98 422.22,388.43 C423.77,388.88 425.33,389.32 426.89,389.77 C428.46,390.21 430.03,390.65 431.60,391.10 C433.18,391.55 434.75,391.99 436.33,392.44 C437.92,392.89 439.50,393.33 441.09,393.78 C442.68,394.23 444.27,394.68 445.87,395.13 C447.46,395.58 449.06,396.04 450.66,396.49 C452.26,396.94 453.87,397.40 455.47,397.86 C457.08,398.31 458.70,398.77 460.31,399.23 C461.92,399.68 463.53,400.15 465.15,400.61 C466.77,401.07 468.39,401.53 470.02,402.00 C471.64,402.46 473.27,402.93 474.90,403.39 C476.53,403.86 478.17,404.32 479.81,404.79 C481.45,405.26 483.09,405.73 484.73,406.20 C486.38,406.67 488.03,407.14 489.68,407.61 C491.34,408.08 492.99,408.55 494.65,409.03 C496.31,409.51 497.96,409.99 499.62,410.48 C501.28,410.96 502.95,411.45 504.61,411.94 C506.27,412.43 507.94,412.93 509.60,413.43 C511.27,413.93 512.93,414.43 514.60,414.95 C516.26,415.46 517.93,415.98 519.59,416.50 C521.25,417.03 522.92,417.56 524.58,418.10 C526.24,418.64 527.90,419.18 529.56,419.73 C531.22,420.29 532.87,420.85 534.53,421.43 C536.18,422.00 537.83,422.58 539.48,423.17 C541.12,423.77 542.76,424.37 544.40,424.99 C546.04,425.60 547.68,426.23 549.31,426.87 C550.94,427.51 552.56,428.16 554.18,428.83 C555.80,429.49 557.41,430.17 559.02,430.86 C560.63,431.55 562.23,432.26 563.83,432.98 C565.43,433.70 567.02,434.43 568.61,435.18 C570.20,435.92 571.78,436.69 573.36,437.46 C574.94,438.24 576.51,439.03 578.08,439.83 C579.65,440.64 581.22,441.45 582.78,442.29 C584.34,443.12 585.89,443.97 587.44,444.84 C588.99,445.70 590.53,446.59 592.07,447.48 C593.61,448.38 595.14,449.30 596.67,450.23 C598.19,451.16 599.71,452.10 601.23,453.07 C602.74,454.03 604.25,455.01 605.75,456.01 C607.25,457.01 608.74,458.03 610.23,459.07 C611.71,460.11 613.19,461.16 614.66,462.23 C616.13,463.31 617.60,464.40 619.05,465.51 C620.51,466.62 621.95,467.75 623.39,468.90 C624.82,470.05 626.26,471.21 627.68,472.39 C629.11,473.57 630.53,474.77 631.94,475.98 C633.36,477.19 634.77,478.42 636.17,479.66 C637.58,480.90 638.99,482.15 640.39,483.42 C641.79,484.68 643.19,485.95 644.58,487.24 C645.98,488.53 647.37,489.83 648.75,491.14 C650.14,492.46 651.52,493.78 652.90,495.12 C654.27,496.45 655.64,497.80 657.01,499.15 C658.37,500.51 659.74,501.88 661.09,503.25 C662.44,504.63 663.79,506.02 665.13,507.41 C666.47,508.80 667.80,510.21 669.13,511.62 C670.45,513.02 671.78,514.44 673.09,515.86 C674.40,517.28 675.70,518.71 677.00,520.14 C678.29,521.57 679.59,522.99 680.87,524.43 C682.15,525.86 683.44,527.28 684.68,528.73 C685.92,530.19 687.13,531.66 688.29,533.16 C689.46,534.65 690.63,536.14 691.68,537.70 C692.74,539.27 693.71,540.89 694.63,542.54 C695.54,544.19 696.41,545.88 697.19,547.60 C697.98,549.32 698.71,551.07 699.34,552.88 C699.97,554.69 700.70,557.52 700.97,558.45" stroke="#ff0000" stroke-width="1.5" fill="none"/>
<path d="M446.04,362.64 C446.81,362.87 449.13,363.54 450.68,363.98 C452.23,364.43 453.79,364.87 455.36,365.32 C456.92,365.76 458.49,366.21 460.07,366.65 C461.64,367.10 463.22,367.55 464.80,367.99 C466.38,368.44 467.97,368.89 469.56,369.34 C471.15,369.78 472.74,370.24 474.33,370.69 C475.93,371.14 477.53,371.59 479.13,372.04 C480.73,372.50 482.33,372.95 483.94,373.41 C485.55,373.87 487.16,374.32 488.77,374.78 C490.39,375.24 492.00,375.70 493.62,376.16 C495.24,376.62 496.86,377.09 498.48,377.55 C500.11,378.01 501.73,378.48 503.37,378.94 C505.00,379.41 506.64,379.87 508.28,380.34 C509.91,380.81 511.55,381.28 513.20,381.75 C514.84,382.22 516.50,382.69 518.15,383.16 C519.80,383.64 521.46,384.11 523.12,384.59 C524.77,385.06 526.43,385.55 528.09,386.03 C529.75,386.52 531.41,387.00 533.07,387.50 C534.74,387.99 536.40,388.48 538.07,388.98 C539.73,389.48 541.40,389.99 543.06,390.50 C544.73,391.01 546.39,391.53 548.06,392.06 C549.72,392.58 551.38,393.11 553.04,393.65 C554.71,394.19 556.37,394.73 558.03,395.29 C559.68,395.84 561.34,396.41 562.99,396.98 C564.64,397.55 566.29,398.14 567.94,398.73 C569.59,399.32 571.23,399.92 572.87,400.54 C574.51,401.16 576.14,401.78 577.77,402.42 C579.40,403.06 581.02,403.71 582.64,404.38 C584.26,405.04 585.87,405.72 587.48,406.41 C589.09,407.11 590.70,407.81 592.29,408.53 C593.89,409.25 595.49,409.98 597.07,410.73 C598.66,411.48 600.25,412.24 601.82,413.02 C603.40,413.79 604.98,414.58 606.55,415.39 C608.11,416.19 609.68,417.01 611.24,417.84 C612.80,418.68 614.36,419.53 615.90,420.39 C617.45,421.26 619.00,422.14 620.53,423.04 C622.07,423.94 623.60,424.85 625.13,425.78 C626.66,426.71 628.18,427.66 629.69,428.62 C631.21,429.59 632.72,430.57 634.22,431.57 C635.72,432.57 637.21,433.59 638.69,434.62 C640.18,435.66 641.66,436.71 643.13,437.79 C644.60,438.86 646.06,439.95 647.52,441.06 C648.97,442.17 650.41,443.31 651.85,444.45 C653.29,445.60 654.72,446.76 656.15,447.94 C657.57,449.12 658.99,450.32 660.41,451.54 C661.82,452.75 663.23,453.97 664.64,455.21 C666.05,456.45 667.45,457.71 668.85,458.97 C670.25,460.23 671.65,461.51 673.05,462.80 C674.44,464.08 675.83,465.39 677.22,466.70 C678.60,468.01 679.98,469.34 681.36,470.67 C682.74,472.01 684.11,473.35 685.47,474.71 C686.84,476.06 688.20,477.43 689.55,478.81 C690.91,480.18 692.25,481.57 693.59,482.96 C694.93,484.36 696.27,485.76 697.59,487.17 C698.92,488.58 700.24,489.99 701.55,491.41 C702.86,492.83 704.16,494.27 705.46,495.69 C706.76,497.12 708.06,498.55 709.34,499.98 C710.62,501.41 711.91,502.83 713.14,504.29 C714.38,505.74 715.59,507.22 716.76,508.71 C717.93,510.21 719.09,511.69 720.15,513.26 C721.21,514.82 722.17,516.45 723.09,518.10 C724.01,519.75 724.87,521.43 725.66,523.15 C726.44,524.87 727.18,526.62 727.81,528.43 C728.44,530.24 729.17,533.07 729.44,534.00" stroke="#ff0000" stroke-width="1.5" fill="none"/>
<path d="M477.55,335.58 C478.32,335.81 480.64,336.48 482.19,336.92 C483.74,337.37 485.30,337.81 486.87,338.26 C488.43,338.70 490.00,339.15 491.58,339.59 C493.15,340.04 494.73,340.49 496.31,340.93 C497.89,341.38 499.48,341.83 501.07,342.27 C502.66,342.72 504.25,343.17 505.84,343.63 C507.44,344.08 509.04,344.53 510.64,344.98 C512.24,345.44 513.84,345.89 515.45,346.35 C517.06,346.80 518.67,347.26 520.28,347.72 C521.90,348.18 523.51,348.64 525.13,349.10 C526.75,349.56 528.37,350.03 529.99,350.49 C531.62,350.95 533.24,351.42 534.88,351.88 C536.51,352.35 538.15,352.81 539.79,353.28 C541.42,353.75 543.06,354.22 544.71,354.69 C546.35,355.16 548.01,355.63 549.66,356.10 C551.31,356.57 552.97,357.05 554.63,357.52 C556.28,358.00 557.94,358.49 559.60,358.97 C561.26,359.46 562.92,359.94 564.58,360.44 C566.25,360.93 567.91,361.42 569.58,361.92 C571.24,362.42 572.91,362.93 574.57,363.44 C576.24,363.95 577.90,364.47 579.57,364.99 C581.23,365.52 582.89,366.05 584.55,366.59 C586.22,367.13 587.88,367.67 589.54,368.23 C591.19,368.78 592.85,369.34 594.50,369.92 C596.15,370.49 597.80,371.07 599.45,371.67 C601.10,372.26 602.74,372.86 604.38,373.48 C606.02,374.09 607.65,374.72 609.28,375.36 C610.91,376.00 612.53,376.65 614.15,377.32 C615.77,377.98 617.38,378.66 618.99,379.35 C620.60,380.05 622.21,380.75 623.80,381.47 C625.40,382.19 627.00,382.92 628.58,383.67 C630.17,384.42 631.76,385.18 633.33,385.95 C634.91,386.73 636.49,387.52 638.06,388.33 C639.62,389.13 641.19,389.95 642.75,390.78 C644.31,391.62 645.87,392.46 647.41,393.33 C648.96,394.20 650.51,395.08 652.04,395.98 C653.58,396.88 655.11,397.79 656.64,398.72 C658.17,399.65 659.69,400.60 661.20,401.56 C662.72,402.53 664.23,403.51 665.73,404.51 C667.23,405.51 668.72,406.53 670.20,407.56 C671.69,408.60 673.17,409.65 674.64,410.73 C676.11,411.80 677.57,412.89 679.03,414.00 C680.48,415.11 681.92,416.24 683.36,417.39 C684.80,418.54 686.23,419.70 687.66,420.88 C689.08,422.06 690.50,423.26 691.92,424.48 C693.33,425.69 694.74,426.91 696.15,428.15 C697.56,429.39 698.96,430.65 700.36,431.91 C701.76,433.17 703.16,434.45 704.56,435.73 C705.95,437.02 707.34,438.32 708.73,439.64 C710.11,440.95 711.49,442.27 712.87,443.61 C714.25,444.94 715.62,446.29 716.98,447.65 C718.35,449.00 719.71,450.37 721.06,451.74 C722.42,453.12 723.76,454.51 725.10,455.90 C726.44,457.30 727.78,458.70 729.10,460.11 C730.43,461.52 731.75,462.93 733.06,464.35 C734.37,465.77 735.67,467.20 736.97,468.63 C738.27,470.06 739.57,471.49 740.85,472.92 C742.13,474.35 743.42,475.77 744.65,477.23 C745.89,478.68 747.10,480.15 748.27,481.65 C749.44,483.14 750.60,484.63 751.66,486.19 C752.72,487.76 753.68,489.39 754.60,491.04 C755.52,492.69 756.38,494.37 757.17,496.09 C757.95,497.81 758.69,499.56 759.32,501.37 C759.95,503.18 760.68,506.01 760.95,506.94" stroke="#ff0000" stroke-width="1.5" fill="none"/>
<rect x="138.40" y="580.30" width="32.80" height="16.50" fill="#fff" stroke="none" stroke-width="0"/>
<text x="140.00" y="593.80" font-size="16.30" font-weight="normal" font-style="normal" fill="#161616" textLength="29.56" lengthAdjust="spacingAndGlyphs" stroke="#161616" stroke-width="0.4">1180</text>
<rect x="171.40" y="552.50" width="32.20" height="16.50" fill="#fff" stroke="none" stroke-width="0"/>
<text x="173.00" y="566.00" font-size="16.30" font-weight="normal" font-style="normal" fill="#161616" textLength="28.97" lengthAdjust="spacingAndGlyphs" stroke="#161616" stroke-width="0.4">1320</text>
<rect x="210.70" y="519.60" width="32.90" height="16.50" fill="#fff" stroke="none" stroke-width="0"/>
<text x="212.30" y="533.10" font-size="16.30" font-weight="normal" font-style="normal" fill="#161616" textLength="29.67" lengthAdjust="spacingAndGlyphs" stroke="#161616" stroke-width="0.4">1500</text>
<rect x="246.50" y="489.50" width="32.00" height="16.50" fill="#fff" stroke="none" stroke-width="0"/>
<text x="248.10" y="503.00" font-size="16.30" font-weight="normal" font-style="normal" fill="#161616" textLength="28.77" lengthAdjust="spacingAndGlyphs" stroke="#161616" stroke-width="0.4">1700</text>
<rect x="283.40" y="458.90" width="32.00" height="16.50" fill="#fff" stroke="none" stroke-width="0"/>
<text x="285.00" y="472.40" font-size="16.30" font-weight="normal" font-style="normal" fill="#161616" textLength="28.77" lengthAdjust="spacingAndGlyphs" stroke="#161616" stroke-width="0.4">1900</text>
<rect x="312.20" y="432.30" width="32.90" height="16.50" fill="#fff" stroke="none" stroke-width="0"/>
<text x="313.80" y="445.80" font-size="16.30" font-weight="normal" font-style="normal" fill="#161616" textLength="29.67" lengthAdjust="spacingAndGlyphs" stroke="#161616" stroke-width="0.4">2120</text>
<rect x="342.40" y="406.70" width="32.40" height="16.50" fill="#fff" stroke="none" stroke-width="0"/>
<text x="344.00" y="420.20" font-size="16.30" font-weight="normal" font-style="normal" fill="#161616" textLength="29.17" lengthAdjust="spacingAndGlyphs" stroke="#161616" stroke-width="0.4">2360</text>
<rect x="364.40" y="387.30" width="32.90" height="16.50" fill="#fff" stroke="none" stroke-width="0"/>
<text x="366.00" y="400.80" font-size="16.30" font-weight="normal" font-style="normal" fill="#161616" textLength="29.67" lengthAdjust="spacingAndGlyphs" stroke="#161616" stroke-width="0.4">2500</text>
<rect x="400.00" y="356.10" width="32.80" height="16.50" fill="#fff" stroke="none" stroke-width="0"/>
<text x="401.60" y="369.60" font-size="16.30" font-weight="normal" font-style="normal" fill="#161616" textLength="29.57" lengthAdjust="spacingAndGlyphs" stroke="#161616" stroke-width="0.4">2850</text>
<rect x="428.80" y="331.80" width="32.80" height="16.50" fill="#fff" stroke="none" stroke-width="0"/>
<text x="430.40" y="345.30" font-size="16.30" font-weight="normal" font-style="normal" fill="#161616" textLength="29.57" lengthAdjust="spacingAndGlyphs" stroke="#161616" stroke-width="0.4">3150</text>
<rect x="108.00" y="604.40" width="32.00" height="30.80" fill="#fff" stroke="none" stroke-width="0"/>
<text x="109.60" y="617.80" font-size="16.30" font-weight="normal" font-style="normal" fill="#161616" textLength="29.57" lengthAdjust="spacingAndGlyphs" stroke="#161616" stroke-width="0.4">1060</text>
<text x="109.60" y="631.20" font-size="15.50" font-weight="normal" font-style="normal" fill="#161616" textLength="29.64" lengthAdjust="spacingAndGlyphs" stroke="#161616" stroke-width="0.4">RPM</text>
<g transform="translate(496.80,329.20) rotate(-45)">
<rect x="-8.05" y="-5.90" width="16.10" height="11.80" fill="#fff"/>
<text x="-5.85" y="3.60" font-size="10.50" fill="#161616">70</text>
</g>
<g transform="translate(559.90,338.70) rotate(-45)">
<rect x="-8.05" y="-5.85" width="16.10" height="11.70" fill="#fff"/>
<text x="-5.85" y="3.55" font-size="10.50" fill="#161616">75</text>
</g>
<g transform="translate(640.10,338.20) rotate(-45)">
<rect x="-23.50" y="-7.10" width="47.00" height="14.20" fill="#fff"/>
<text x="-21.30" y="2.70" font-size="10.50" fill="#161616">78,6(η%)</text>
</g>
<g transform="translate(702.20,377.00) rotate(-45)">
<rect x="-8.05" y="-5.85" width="16.10" height="11.70" fill="#fff"/>
<text x="-5.85" y="3.55" font-size="10.50" fill="#161616">75</text>
</g>
<g transform="translate(729.20,395.00) rotate(-45)">
<rect x="-8.05" y="-5.90" width="16.10" height="11.80" fill="#fff"/>
<text x="-5.85" y="3.60" font-size="10.50" fill="#161616">70</text>
</g>
<g transform="translate(754.80,412.40) rotate(-45)">
<rect x="-8.05" y="-5.90" width="16.10" height="11.80" fill="#fff"/>
<text x="-5.85" y="3.60" font-size="10.50" fill="#161616">65</text>
</g>
<rect x="704.5" y="556.5" width="34.2" height="20" fill="#fff"/>
<text x="705.00" y="572.00" font-size="16.50" font-weight="normal" font-style="normal" fill="#ff0000" textLength="32.99" lengthAdjust="spacingAndGlyphs">3 kW</text>
<rect x="731" y="536" width="12" height="16" fill="#fff"/>
<text x="733.00" y="549.00" font-size="16.50" font-weight="normal" font-style="normal" fill="#ff0000" textLength="7.98" lengthAdjust="spacingAndGlyphs">4</text>
<rect x="761" y="509" width="24" height="17" fill="#fff"/>
<text x="763.00" y="523.00" font-size="16.50" font-weight="normal" font-style="normal" fill="#ff0000" textLength="20.03" lengthAdjust="spacingAndGlyphs">5,5</text>
<rect x="599" y="646" width="22.3" height="19.8" fill="#fff"/>
<text x="602.00" y="661.00" font-size="16.50" font-weight="normal" font-style="normal" fill="#0000ff" textLength="16.33" lengthAdjust="spacingAndGlyphs">1,1</text>
<rect x="532" y="704" width="31.2" height="18" fill="#fff"/>
<text x="534.00" y="718.00" font-size="16.50" font-weight="normal" font-style="normal" fill="#0000ff" textLength="28.01" lengthAdjust="spacingAndGlyphs">0,55</text>
<rect x="113.00" y="282.00" width="184.60" height="39.40" fill="#fff" stroke="#222" stroke-width="1.3"/>
<text x="121.00" y="312.60" font-size="27.60" font-weight="bold" font-style="normal" fill="#0a0a0a" textLength="170.00" lengthAdjust="spacingAndGlyphs">FRX 401 N4A</text>
<rect x="701.60" y="726.00" width="143.10" height="48.20" fill="#fff" stroke="#222" stroke-width="1.2"/>
<path d="M708.4,744.8H723.7" stroke="#0000ff" stroke-width="1.3"/>
<path d="M708.4,761.8H723.7" stroke="#ff0000" stroke-width="1.3"/>
<text x="728.30" y="747.80" font-size="12.50" font-weight="normal" font-style="normal" fill="#0000ff" textLength="108.68" lengthAdjust="spacingAndGlyphs">4 pólové / 4 poles</text>
<text x="728.30" y="765.20" font-size="12.50" font-weight="normal" font-style="normal" fill="#ff0000" textLength="108.68" lengthAdjust="spacingAndGlyphs">2 pólové / 2 poles</text>
<text x="32.17" y="301.07" font-size="17.50" font-weight="normal" font-style="normal" fill="#161616" textLength="41.82" lengthAdjust="spacingAndGlyphs">4.000</text>
<text x="32.17" y="337.77" font-size="17.50" font-weight="normal" font-style="normal" fill="#161616" textLength="41.82" lengthAdjust="spacingAndGlyphs">3.000</text>
<text x="32.17" y="389.49" font-size="17.50" font-weight="normal" font-style="normal" fill="#161616" textLength="41.82" lengthAdjust="spacingAndGlyphs">2.000</text>
<text x="32.17" y="434.99" font-size="17.50" font-weight="normal" font-style="normal" fill="#161616" textLength="41.82" lengthAdjust="spacingAndGlyphs">1.400</text>
<text x="32.17" y="477.91" font-size="17.50" font-weight="normal" font-style="normal" fill="#161616" textLength="41.82" lengthAdjust="spacingAndGlyphs">1.000</text>
<text x="46.11" y="523.41" font-size="17.50" font-weight="normal" font-style="normal" fill="#161616" textLength="27.88" lengthAdjust="spacingAndGlyphs">700</text>
<text x="46.11" y="566.33" font-size="17.50" font-weight="normal" font-style="normal" fill="#161616" textLength="27.88" lengthAdjust="spacingAndGlyphs">500</text>
<text x="46.11" y="594.80" font-size="17.50" font-weight="normal" font-style="normal" fill="#161616" textLength="27.88" lengthAdjust="spacingAndGlyphs">400</text>
<text x="46.11" y="631.50" font-size="17.50" font-weight="normal" font-style="normal" fill="#161616" textLength="27.88" lengthAdjust="spacingAndGlyphs">300</text>
<text x="46.11" y="683.22" font-size="17.50" font-weight="normal" font-style="normal" fill="#161616" textLength="27.88" lengthAdjust="spacingAndGlyphs">200</text>
<text x="46.11" y="771.64" font-size="17.50" font-weight="normal" font-style="normal" fill="#161616" textLength="27.88" lengthAdjust="spacingAndGlyphs">100</text>
<text x="18.00" y="272.50" font-size="17.50" font-weight="normal" font-style="normal" fill="#161616" textLength="9.73" lengthAdjust="spacingAndGlyphs">p</text>
<text x="27.50" y="274.00" font-size="12.50" font-weight="normal" font-style="normal" fill="#161616" textLength="16.50" lengthAdjust="spacingAndGlyphs">tot</text>
<text x="48.00" y="272.50" font-size="17.00" font-weight="normal" font-style="normal" fill="#161616" textLength="28.54" lengthAdjust="spacingAndGlyphs">[Pa]</text>
<text x="17.60" y="93.00" font-size="20.30" font-weight="bold" font-style="normal" fill="#111" textLength="322.26" lengthAdjust="spacingAndGlyphs">CHARAKTERISTIKY (na výtlaku)</text>
<path d="M348.2,92.8L353.6,78.6" stroke="#111" stroke-width="1.75"/>
<text x="363.00" y="93.00" font-size="20.30" font-weight="bold" font-style="italic" fill="#111" textLength="362.66" lengthAdjust="spacingAndGlyphs">PERFORMANCE CURVES (at outlet)</text>
<text x="16.20" y="127.40" font-size="19.00" font-weight="normal" font-style="normal" fill="#1e1e1e" textLength="5.62" lengthAdjust="spacingAndGlyphs">-</text>
<text x="32.40" y="127.40" font-size="19.00" font-weight="normal" font-style="normal" fill="#1e1e1e" textLength="189.01" lengthAdjust="spacingAndGlyphs">průtok vzduchu v m³/h</text>
<text x="16.20" y="149.80" font-size="19.00" font-weight="normal" font-style="normal" fill="#1e1e1e" textLength="5.62" lengthAdjust="spacingAndGlyphs">-</text>
<text x="32.40" y="149.80" font-size="19.00" font-weight="normal" font-style="normal" fill="#1e1e1e" textLength="10.57" lengthAdjust="spacingAndGlyphs">p</text>
<text x="43.90" y="150.60" font-size="8.60" font-weight="normal" font-style="normal" fill="#1e1e1e" textLength="7.79" lengthAdjust="spacingAndGlyphs">st</text>
<text x="52.60" y="149.80" font-size="19.00" font-weight="normal" font-style="normal" fill="#1e1e1e" textLength="109.95" lengthAdjust="spacingAndGlyphs">: statický tlak</text>
<text x="16.20" y="171.60" font-size="19.00" font-weight="normal" font-style="normal" fill="#1e1e1e" textLength="5.62" lengthAdjust="spacingAndGlyphs">-</text>
<text x="32.40" y="171.60" font-size="19.00" font-weight="normal" font-style="normal" fill="#1e1e1e" textLength="242.17" lengthAdjust="spacingAndGlyphs">velikost - výkon motoru v kW</text>
<text x="16.20" y="194.60" font-size="19.00" font-weight="normal" font-style="normal" fill="#1e1e1e" textLength="5.62" lengthAdjust="spacingAndGlyphs">-</text>
<text x="32.40" y="194.60" font-size="19.00" font-weight="normal" font-style="normal" fill="#1e1e1e" textLength="61.11" lengthAdjust="spacingAndGlyphs">příklad:</text>
<text x="115.00" y="194.60" font-size="19.00" font-weight="normal" font-style="normal" fill="#1e1e1e" textLength="58.61" lengthAdjust="spacingAndGlyphs">451 - 11</text>
<text x="115.00" y="216.50" font-size="19.00" font-weight="normal" font-style="normal" fill="#1e1e1e" textLength="107.77" lengthAdjust="spacingAndGlyphs">velikost - kW</text>
<text x="666.20" y="127.40" font-size="19.00" font-weight="normal" font-style="normal" fill="#1e1e1e" textLength="5.62" lengthAdjust="spacingAndGlyphs">-</text>
<text x="681.60" y="127.40" font-size="19.00" font-weight="normal" font-style="italic" fill="#1e1e1e" textLength="155.37" lengthAdjust="spacingAndGlyphs">air volume in m³/h.</text>
<text x="666.20" y="150.40" font-size="19.00" font-weight="bold" font-style="normal" fill="#1e1e1e" textLength="5.62" lengthAdjust="spacingAndGlyphs">-</text>
<text x="681.60" y="150.40" font-size="19.00" font-weight="normal" font-style="normal" fill="#1e1e1e" textLength="10.57" lengthAdjust="spacingAndGlyphs">p</text>
<text x="693.10" y="151.20" font-size="8.60" font-weight="normal" font-style="normal" fill="#1e1e1e" textLength="7.79" lengthAdjust="spacingAndGlyphs">st</text>
<text x="702.60" y="150.40" font-size="19.00" font-weight="normal" font-style="normal" fill="#1e1e1e" textLength="5.28" lengthAdjust="spacingAndGlyphs">:</text>
<text x="712.30" y="150.40" font-size="19.00" font-weight="normal" font-style="italic" fill="#1e1e1e" textLength="179.28" lengthAdjust="spacingAndGlyphs">Static pressure in Pa.</text>
<text x="666.20" y="172.20" font-size="19.00" font-weight="normal" font-style="normal" fill="#1e1e1e" textLength="5.62" lengthAdjust="spacingAndGlyphs">-</text>
<text x="681.60" y="172.20" font-size="19.00" font-weight="normal" font-style="italic" fill="#1e1e1e" textLength="235.18" lengthAdjust="spacingAndGlyphs">model - motor power in kW.</text>
<text x="666.20" y="195.20" font-size="19.00" font-weight="normal" font-style="normal" fill="#1e1e1e" textLength="5.62" lengthAdjust="spacingAndGlyphs">-</text>
<text x="681.60" y="195.20" font-size="19.00" font-weight="normal" font-style="italic" fill="#1e1e1e" textLength="73.40" lengthAdjust="spacingAndGlyphs">example:</text>
<text x="769.30" y="195.20" font-size="19.00" font-weight="normal" font-style="italic" fill="#1e1e1e" textLength="69.11" lengthAdjust="spacingAndGlyphs">451 - 11</text>
<text x="769.30" y="217.60" font-size="19.00" font-weight="normal" font-style="italic" fill="#1e1e1e" textLength="96.95" lengthAdjust="spacingAndGlyphs">model - kW</text>
<path d="M84.0,827.40H876.0M84.0,859.40H876.0M84.0,892.60H876.0M116.09,827.40v3.4M155.83,827.40v3.4M190.89,827.40v3.4M250.61,827.40v3.4M276.51,827.40v3.4M300.33,827.40v3.4M322.39,827.40v3.4M388.81,827.40v3.4M463.60,827.40v3.4M523.33,827.40v3.4M573.05,827.40v3.4M615.64,827.40v3.4M652.89,827.40v3.4M686.00,827.40v3.4M755.53,827.40v3.4M801.41,827.40v3.4M841.15,827.40v3.4M876.21,827.40v3.4M222.25,827.40v6.0M342.93,827.40v6.0M428.55,827.40v6.0M494.96,827.40v6.0M549.23,827.40v6.0M595.11,827.40v6.0M634.85,827.40v6.0M669.91,827.40v6.0M701.26,827.40v6.0M99.98,859.40v3.4M142.79,859.40v3.4M236.34,859.40v3.4M312.36,859.40v3.4M362.43,859.40v3.4M399.83,859.40v3.4M429.69,859.40v3.4M454.55,859.40v3.4M475.85,859.40v3.4M494.47,859.40v3.4M511.03,859.40v3.4M545.79,859.40v3.4M568.73,859.40v3.4M588.60,859.40v3.4M606.13,859.40v3.4M635.99,859.40v3.4M648.94,859.40v3.4M660.85,859.40v3.4M671.88,859.40v3.4M705.09,859.40v3.4M742.49,859.40v3.4M772.35,859.40v3.4M797.21,859.40v3.4M818.51,859.40v3.4M837.13,859.40v3.4M853.69,859.40v3.4M176.00,859.40v6.0M279.15,859.40v6.0M339.49,859.40v6.0M382.30,859.40v6.0M415.51,859.40v6.0M442.64,859.40v6.0M465.58,859.40v6.0M485.45,859.40v6.0M502.98,859.40v6.0M518.66,859.40v6.0M621.81,859.40v6.0M682.15,859.40v6.0M724.96,859.40v6.0M758.17,859.40v6.0M785.30,859.40v6.0M808.24,859.40v6.0M828.11,859.40v6.0M845.64,859.40v6.0M861.32,859.40v6.0M129.44,892.60v3.4M204.24,892.60v3.4M263.97,892.60v3.4M313.69,892.60v3.4M356.28,892.60v3.4M393.53,892.60v3.4M426.64,892.60v3.4M496.17,892.60v3.4M581.79,892.60v3.4M616.85,892.60v3.4M676.57,892.60v3.4M702.47,892.60v3.4M726.29,892.60v3.4M748.35,892.60v3.4M788.09,892.60v3.4M814.76,892.60v3.4M169.19,892.60v6.0M235.60,892.60v6.0M289.86,892.60v6.0M335.74,892.60v6.0M375.49,892.60v6.0M410.54,892.60v6.0M441.90,892.60v6.0M542.05,892.60v6.0M648.20,892.60v6.0M768.88,892.60v6.0M854.51,892.60v6.0" stroke="#111" stroke-width="1.1" fill="none"/>
<text x="112.86" y="820.20" font-size="17.50" fill="#161616" textLength="23.23" lengthAdjust="spacingAndGlyphs">0.4</text>
<text x="179.27" y="820.20" font-size="17.50" fill="#161616" textLength="23.23" lengthAdjust="spacingAndGlyphs">0.5</text>
<text x="279.42" y="820.20" font-size="17.50" fill="#161616" textLength="23.23" lengthAdjust="spacingAndGlyphs">0.7</text>
<text x="392.54" y="820.20" font-size="17.50" fill="#161616" textLength="9.29" lengthAdjust="spacingAndGlyphs">1</text>
<text x="485.72" y="820.20" font-size="17.50" fill="#161616" textLength="23.23" lengthAdjust="spacingAndGlyphs">1.4</text>
<text x="598.84" y="820.20" font-size="17.50" fill="#161616" textLength="9.29" lengthAdjust="spacingAndGlyphs">2</text>
<text x="719.52" y="820.20" font-size="17.50" fill="#161616" textLength="9.29" lengthAdjust="spacingAndGlyphs">3</text>
<text x="805.15" y="820.20" font-size="17.50" fill="#161616" textLength="9.29" lengthAdjust="spacingAndGlyphs">4</text>
<text x="871.56" y="820.20" font-size="17.50" fill="#161616" textLength="9.29" lengthAdjust="spacingAndGlyphs">5</text>
<text x="201.34" y="853.40" font-size="17.50" fill="#161616" textLength="41.82" lengthAdjust="spacingAndGlyphs">2.000</text>
<text x="322.01" y="853.40" font-size="17.50" fill="#161616" textLength="41.82" lengthAdjust="spacingAndGlyphs">3.000</text>
<text x="474.05" y="853.40" font-size="17.50" fill="#161616" textLength="41.82" lengthAdjust="spacingAndGlyphs">5.000</text>
<text x="574.20" y="853.40" font-size="17.50" fill="#161616" textLength="41.82" lengthAdjust="spacingAndGlyphs">7.000</text>
<text x="675.71" y="853.40" font-size="17.50" fill="#161616" textLength="51.12" lengthAdjust="spacingAndGlyphs">10.000</text>
<text x="850.65" y="853.40" font-size="17.50" fill="#161616" textLength="51.12" lengthAdjust="spacingAndGlyphs">18.000</text>
<text x="166.71" y="886.00" font-size="17.50" fill="#161616" textLength="18.59" lengthAdjust="spacingAndGlyphs">10</text>
<text x="269.86" y="886.00" font-size="17.50" fill="#161616" textLength="18.59" lengthAdjust="spacingAndGlyphs">20</text>
<text x="330.20" y="886.00" font-size="17.50" fill="#161616" textLength="18.59" lengthAdjust="spacingAndGlyphs">30</text>
<text x="373.01" y="886.00" font-size="17.50" fill="#161616" textLength="18.59" lengthAdjust="spacingAndGlyphs">40</text>
<text x="406.21" y="886.00" font-size="17.50" fill="#161616" textLength="18.59" lengthAdjust="spacingAndGlyphs">50</text>
<text x="456.29" y="886.00" font-size="17.50" fill="#161616" textLength="18.59" lengthAdjust="spacingAndGlyphs">70</text>
<text x="504.72" y="886.00" font-size="17.50" fill="#161616" textLength="27.88" lengthAdjust="spacingAndGlyphs">100</text>
<text x="607.87" y="886.00" font-size="17.50" fill="#161616" textLength="27.88" lengthAdjust="spacingAndGlyphs">200</text>
<text x="668.21" y="886.00" font-size="17.50" fill="#161616" textLength="27.88" lengthAdjust="spacingAndGlyphs">300</text>
<text x="744.23" y="886.00" font-size="17.50" fill="#161616" textLength="27.88" lengthAdjust="spacingAndGlyphs">500</text>
<text x="842.73" y="886.00" font-size="17.50" fill="#161616" textLength="37.18" lengthAdjust="spacingAndGlyphs">1000</text>
<text x="230.95" y="919.60" font-size="17.50" fill="#161616" textLength="9.29" lengthAdjust="spacingAndGlyphs">5</text>
<text x="331.10" y="919.60" font-size="17.50" fill="#161616" textLength="9.29" lengthAdjust="spacingAndGlyphs">7</text>
<text x="432.61" y="919.60" font-size="17.50" fill="#161616" textLength="18.59" lengthAdjust="spacingAndGlyphs">10</text>
<text x="532.75" y="919.60" font-size="17.50" fill="#161616" textLength="18.59" lengthAdjust="spacingAndGlyphs">14</text>
<text x="638.91" y="919.60" font-size="17.50" fill="#161616" textLength="18.59" lengthAdjust="spacingAndGlyphs">20</text>
<text x="759.59" y="919.60" font-size="17.50" fill="#161616" textLength="18.59" lengthAdjust="spacingAndGlyphs">30</text>
<text x="845.21" y="919.60" font-size="17.50" fill="#161616" textLength="18.59" lengthAdjust="spacingAndGlyphs">40</text>
<text x="904.40" y="819.60" font-size="17.50" font-weight="normal" font-style="normal" fill="#161616" textLength="9.73" lengthAdjust="spacingAndGlyphs">q</text>
<text x="914.00" y="822.50" font-size="11.50" font-weight="normal" font-style="normal" fill="#161616" textLength="5.75" lengthAdjust="spacingAndGlyphs">v</text>
<text x="925.00" y="819.60" font-size="16.00" font-weight="normal" font-style="normal" fill="#161616" textLength="40.29" lengthAdjust="spacingAndGlyphs">[m³/s]</text>
<text x="903.70" y="852.80" font-size="17.50" font-weight="normal" font-style="normal" fill="#161616" textLength="9.73" lengthAdjust="spacingAndGlyphs">q</text>
<text x="913.30" y="855.70" font-size="11.50" font-weight="normal" font-style="normal" fill="#161616" textLength="5.75" lengthAdjust="spacingAndGlyphs">v</text>
<text x="924.50" y="852.80" font-size="16.00" font-weight="normal" font-style="normal" fill="#161616" textLength="41.49" lengthAdjust="spacingAndGlyphs">[m³/h]</text>
<text x="910.00" y="885.40" font-size="17.50" font-weight="normal" font-style="normal" fill="#161616" textLength="19.60" lengthAdjust="spacingAndGlyphs">Pd</text>
<text x="936.60" y="885.40" font-size="13.00" font-weight="normal" font-style="normal" fill="#161616" textLength="23.83" lengthAdjust="spacingAndGlyphs">[Pa]</text>
<text x="913.50" y="918.30" font-size="17.50" font-weight="normal" font-style="normal" fill="#161616" textLength="8.75" lengthAdjust="spacingAndGlyphs">v</text>
<text x="928.50" y="918.30" font-size="13.00" font-weight="normal" font-style="normal" fill="#161616" textLength="27.67" lengthAdjust="spacingAndGlyphs">[m/s]</text>
</svg>
</body></html>
